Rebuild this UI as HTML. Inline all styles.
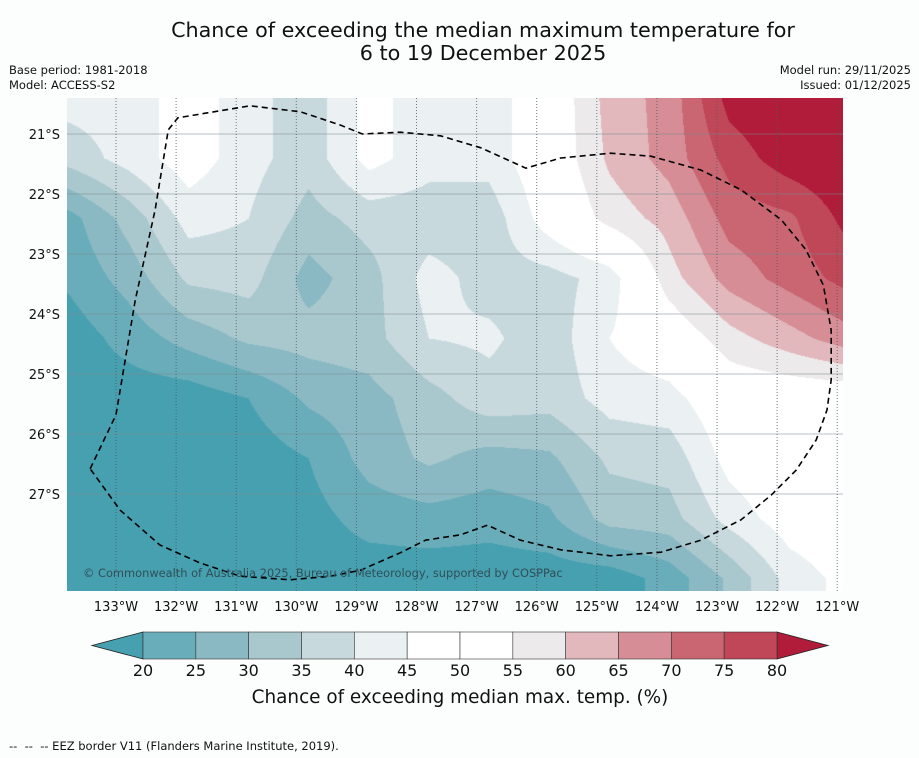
<!DOCTYPE html>
<html><head><meta charset="utf-8">
<style>
body{margin:0;background:#fcfdfd;font-family:"DejaVu Sans","Liberation Sans",sans-serif;}
#root{position:relative;width:919px;height:758px;overflow:hidden;background:#fcfdfd;}
.t{position:absolute;color:#111;white-space:nowrap;}
</style></head>
<body>
<div id="root">
<div class="t" style="left:0;width:966px;top:19px;text-align:center;font-size:20.7px;line-height:23px;font-family:'DejaVu Sans',sans-serif;">Chance of exceeding the median maximum temperature for<br>6 to 19 December 2025</div>
<div class="t" style="left:9px;top:63px;font-size:11.5px;line-height:15px;font-family:'DejaVu Sans',sans-serif;">Base period: 1981-2018<br>Model: ACCESS-S2</div>
<div class="t" style="right:8px;top:63px;font-size:11.5px;line-height:15px;text-align:right;font-family:'DejaVu Sans',sans-serif;">Model run: 29/11/2025<br>Issued: 01/12/2025</div>
<canvas id="map" width="776" height="493" style="position:absolute;left:67px;top:98px;"></canvas>
<svg id="ov" width="919" height="758" style="position:absolute;left:0;top:0;"></svg>
<div class="t" style="left:9px;top:739px;font-size:11.5px;font-family:'DejaVu Sans',sans-serif;">--&nbsp; --&nbsp; -- EEZ border V11 (Flanders Marine Institute, 2019).</div>
</div>
<script>
const gridLons=[133.8,132.8,131.8,130.8,129.8,128.8,127.8,126.8,125.8,124.8,123.8,122.8,121.8,120.8];
const gridLats=[20.4,21.4,22.4,23.4,24.4,25.4,26.4,27.4,28.4,29.4];
const chanceValues=[
[42,42,48,42,37,47,42,42,50,62,67,82,85,85],
[37,42,48,42,37,47,42,42,50,61,67,77,83,85],
[23,32,42,40,33,37,37,37,48,57,62,72,74,82],
[21,27,36,37,28,33,42,38,38,42,58,67,72,77],
[17,22,27,31,32,33,40,41,37,45,50,58,63,68],
[17,17,17,20,26,28,33,38,37,42,43,50,50,50],
[17,17,17,17,20,27,31,28,29,36,37,47,50,48],
[17,17,17,17,18,22,23,22,24,32,33,42,48,50],
[17,17,17,17,17,17,17,17,17,17,22,31,42,47],
[17,17,17,17,17,17,17,17,17,17,22,31,42,47]];
const levels=[20,25,30,35,40,45,50,55,60,65,70,75,80];
const levelColors=["#47a0b0","#6aadba","#8ab9c4","#a9c8cd","#c8d9de","#ebf0f2","#ffffff","#ffffff","#edeaeb","#e2b8bd","#d68d95","#c96672","#bf4757","#b01c39"];
const lonTicks=[133,132,131,130,129,128,127,126,125,124,123,122,121];
const latTicks=[21,22,23,24,25,26,27];
const eezLon=[133.43,133,132.68,132.35,132.13,131.97,130.77,129.93,129.27,128.9,128.27,127.6,126.93,126.18,125.6,124.77,124.1,123.27,122.6,121.93,121.52,121.23,121.1,121.1,121.17,121.35,121.68,122.1,122.6,123.27,123.93,124.77,125.6,126.27,126.82,127.27,127.85,128.27,128.93,129.43,130.1,130.93,131.6,132.27,132.93,133.43];
const eezLat=[26.58,25.68,23.77,22.27,20.93,20.73,20.53,20.63,20.85,21,20.97,21.03,21.23,21.57,21.4,21.32,21.37,21.6,21.93,22.43,22.93,23.52,24.27,25.1,25.6,26.1,26.6,27.02,27.43,27.77,27.97,28.03,27.93,27.77,27.52,27.68,27.77,27.98,28.27,28.37,28.43,28.37,28.15,27.85,27.27,26.58];
const X0=116, Y0=134, PX=60.1, PY=60;
function xOf(lon){return X0+(133-lon)*PX;}
function yOf(lat){return Y0+(lat-21)*PY;}
function hex(c){return [parseInt(c.substr(1,2),16),parseInt(c.substr(3,2),16),parseInt(c.substr(5,2),16)];}
(function(){
 const cv=document.getElementById('map');const ctx=cv.getContext('2d');
 const W=cv.width,H=cv.height;const img=ctx.createImageData(W,H);
 const gx=gridLons.map(xOf), gy=gridLats.map(yOf);
 const cols=levelColors.map(hex);
 for(let py=0;py<H;py++){const Y=py+98;
  let j=0;while(j<gy.length-2&&Y>gy[j+1])j++;
  let ty=(Y-gy[j])/(gy[j+1]-gy[j]);ty=Math.max(0,Math.min(1,ty));
  for(let px=0;px<W;px++){const Xp=px+67;
   let i=0;while(i<gx.length-2&&Xp>gx[i+1])i++;
   let tx=(Xp-gx[i])/(gx[i+1]-gx[i]);tx=Math.max(0,Math.min(1,tx));
   const a=chanceValues[j][i],b=chanceValues[j][i+1],c=chanceValues[j+1][i],d=chanceValues[j+1][i+1];
   const v=a*(1-tx)*(1-ty)+b*tx*(1-ty)+c*(1-tx)*ty+d*tx*ty;
   let k=0;while(k<levels.length&&v>=levels[k])k++;
   const col=cols[k];const o=(py*W+px)*4;
   img.data[o]=col[0];img.data[o+1]=col[1];img.data[o+2]=col[2];img.data[o+3]=255;}}
 ctx.putImageData(img,0,0);
})();
const NS="http://www.w3.org/2000/svg";
const ov=document.getElementById('ov');
function mk(tag,attrs,parent){const e=document.createElementNS(NS,tag);for(const k in attrs)e.setAttribute(k,attrs[k]);(parent||ov).appendChild(e);return e;}
latTicks.forEach(lat=>{
 const l=mk('line',{x1:67,x2:843,y1:yOf(lat),y2:yOf(lat),stroke:'#7a8a90','stroke-width':0.8,'stroke-opacity':0.7});
 
 
 const t=mk('text',{x:60,y:yOf(lat)+5,'text-anchor':'end','font-size':13,fill:'#111','font-family':'DejaVu Sans, sans-serif'});
 t.textContent=lat+'°S';
 
 
});
lonTicks.forEach(lon=>{
 const x=xOf(lon);
 if(x<843){const l=mk('line',{x1:x,x2:x,y1:98,y2:591,stroke:'#4a5a60','stroke-width':1,'stroke-dasharray':'1,2','stroke-opacity':0.8});
 
 }
 const t=mk('text',{x:x,y:611,'text-anchor':'middle','font-size':13,fill:'#111','font-family':'DejaVu Sans, sans-serif'});
 t.textContent=lon+'°W';
 
 
});
const eez=mk('polyline',{points:eezLon.map((lo,i)=>xOf(lo)+','+yOf(eezLat[i])).join(' '),fill:'none',stroke:'#000','stroke-width':1.6,'stroke-dasharray':'6,4'});


const cp=mk('text',{x:83,y:577,'font-size':11.4,fill:'#2f4f58','font-family':'DejaVu Sans, sans-serif'});
cp.textContent='© Commonwealth of Australia 2025, Bureau of Meteorology, supported by COSPPac';


const cbL=143,cbR=777,cbT=632,cbB=659,segW=(cbR-cbL)/12;
const lt=mk('polygon',{points:`${cbL},${cbT} ${cbL},${cbB} 92,645.5`,fill:levelColors[0],stroke:'#222','stroke-width':0.8});


const rt=mk('polygon',{points:`${cbR},${cbT} ${cbR},${cbB} 828,645.5`,fill:levelColors[13],stroke:'#222','stroke-width':0.8});


for(let i=0;i<12;i++){
 const r=mk('rect',{x:cbL+i*segW,y:cbT,width:segW,height:cbB-cbT,fill:levelColors[i+1],stroke:'#333','stroke-width':0.6});
 
 
}
levels.forEach((lv,i)=>{
 const t=mk('text',{x:cbL+i*segW,y:676,'text-anchor':'middle','font-size':16,fill:'#111','font-family':'DejaVu Sans, sans-serif'});
 t.textContent=lv;
 
 
});
const ct=mk('text',{x:460,y:703,'text-anchor':'middle','font-size':18.4,fill:'#111','font-family':'DejaVu Sans, sans-serif'});
ct.textContent='Chance of exceeding median max. temp. (%)';


</script>
</body></html>
